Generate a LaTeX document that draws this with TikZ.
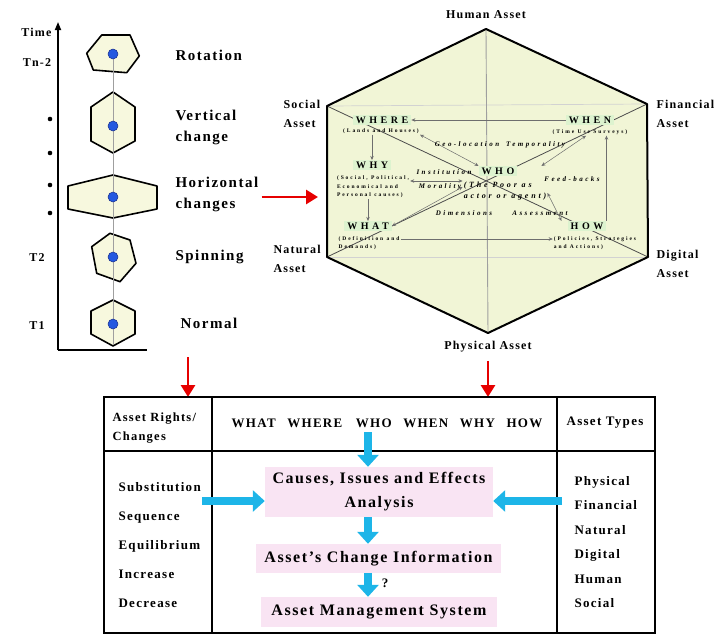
\documentclass[tikz,border=0pt]{standalone}
\usepackage{fontspec}
\setmainfont{Liberation Serif}[LetterSpace=10]
\newfontfamily\widefont{Liberation Serif}[LetterSpace=35]
\usepackage{xcolor}
\usetikzlibrary{arrows.meta,positioning,calc}
\definecolor{cellbg}{HTML}{F7F8DE}
\definecolor{hexbg}{HTML}{F1F5D6}
\definecolor{lblbg}{HTML}{DDF3CF}
\definecolor{pinkbg}{HTML}{F9E4F3}
\definecolor{dotfill}{HTML}{2458E0}
\definecolor{dotbd}{HTML}{1A2F8C}
\definecolor{redarr}{HTML}{E60000}
\definecolor{cyanarr}{HTML}{1DB5E8}
\definecolor{thingray}{HTML}{6E6E6E}
\tikzset{
  axisline/.style={line width=1.6pt,black},
  axtxt/.style={font=\bfseries\fontsize{12}{14}\selectfont},
  cellhex/.style={draw=black,fill=cellbg,line width=1.6pt,line join=round},
  spine/.style={gray!75,line width=0.9pt},
  dotblue/.style={circle,draw=dotbd,fill=dotfill,inner sep=0pt,
                  minimum size=10pt,line width=0.5pt},
  bigtxt/.style={font=\bfseries\fontsize{15}{21}\selectfont,align=left},
  assettxt/.style={font=\bfseries\fontsize{12}{19}\selectfont,align=left},
  hexedge/.style={draw=black,line width=2pt,line join=round},
  faint/.style={gray!35,line width=0.7pt},
  diag/.style={black!70,line width=0.8pt},
  hexlbl/.style={fill=lblbg,inner xsep=3pt,inner ysep=1.5pt,
                 font=\widefont\bfseries\fontsize{10}{12}\selectfont},
  sublbl/.style={font=\widefont\bfseries\fontsize{5.5}{8.5}\selectfont,
                 align=left,inner sep=1pt},
  flowlbl/.style={font=\widefont\bfseries\itshape\fontsize{7}{9}\selectfont,
                  inner sep=1pt},
  oneway/.style={-{Stealth[length=4pt,width=3.5pt]},thingray,line width=0.5pt},
  twoway/.style={{Stealth[length=4pt,width=3.5pt]}-{Stealth[length=4pt,width=3.5pt]},
                 thingray,line width=0.5pt},
  redarrow/.style={-{Triangle[length=12pt,width=14pt]},redarr,line width=2.8pt},
  cyanarrow/.style={-{Triangle[length=12pt,width=21pt]},cyanarr,line width=8pt},
  tablebd/.style={line width=2.6pt,black},
  tablein/.style={line width=1.3pt,black},
  tabtxt/.style={font=\bfseries\fontsize{13}{19}\selectfont,align=left},
  pinkbox/.style={fill=pinkbg,inner sep=0pt,align=center,
                  font=\bfseries\fontsize{16}{24}\selectfont},
}
\begin{document}
\begin{tikzpicture}[x=1pt,y=-1pt]
  \useasboundingbox (0,0) rectangle (716,635);

  % Time axis with the stages
  \draw[axisline,-{Triangle[length=8pt,width=6pt]}] (58,350) -- (58,22);
  \draw[axisline] (58,350) -- (147,350);
  \node[axtxt,anchor=east] (time) at (55,32) {Time};
  \node[axtxt] (tn) at (37,63) {Tn-2};
  \node[axtxt] (ttwo) at (37,258) {T2};
  \node[axtxt] (tone) at (37,326) {T1};
  \foreach \y in {119,153,185,213}
    \fill (50,\y) circle (2.3pt);

  % Asset shapes over time
  \draw[cellhex] (86.7,53.3) -- (101.7,35) -- (130,35) -- (139.3,56)
    -- (126.7,72.7) -- (93.3,70) -- cycle;
  \draw[cellhex] (113,92) -- (135,107) -- (135,141) -- (113,153)
    -- (91,141) -- (91,107) -- cycle;
  \draw[cellhex] (113,175) -- (157,186) -- (157,209) -- (113,218)
    -- (68,209) -- (68,186) -- cycle;
  \draw[cellhex] (91.7,246.7) -- (110,233.3) -- (130,240) -- (136,263.3)
    -- (120,281.7) -- (96.7,273.3) -- cycle;
  \draw[cellhex] (113,300) -- (135,311) -- (135,334) -- (113,346)
    -- (91,334) -- (91,311) -- cycle;
  \draw[spine] (113,54) -- (113,345);
  \foreach \y/\n in {54/drot,126/dver,197/dhor,257/dspin,324/dnorm}
    \node[dotblue] (\n) at (113,\y) {};

  \node[bigtxt,anchor=west] (lrot) at (172,55) {Rotation};
  \node[bigtxt,anchor=west] (lver) at (172,127) {Vertical\\change};
  \node[bigtxt,anchor=west] (lhor) at (172,194) {Horizontal\\changes};
  \node[bigtxt,anchor=west] (lspin) at (172,257) {Spinning};
  \node[bigtxt,anchor=west] (lnorm) at (177,323) {Normal};

  % Asset hexagon
  \coordinate (hA) at (486,29);
  \coordinate (fA) at (647,104);
  \coordinate (dA) at (648,257);
  \coordinate (pA) at (488,333);
  \coordinate (nA) at (327,257);
  \coordinate (sA) at (327,106);
  \fill[hexbg] (hA) -- (fA) -- (dA) -- (pA) -- (nA) -- (sA) -- cycle;
  \draw[faint] (sA) -- (fA);
  \draw[faint] (nA) -- (dA);
  \draw[spine] (hA) -- (pA);
  \draw[diag] (sA) -- (dA);
  \draw[diag] (fA) -- (nA);
  \draw[hexedge] (hA) -- (fA) -- (dA) -- (pA) -- (nA) -- (sA) -- cycle;

  \node[assettxt] (human) at (486,15) {Human Asset};
  \node[assettxt] (phys) at (488,347) {Physical Asset};
  \node[assettxt,anchor=west] (social) at (280,114) {Social\\Asset};
  \node[assettxt,anchor=west] (finan) at (653,114) {Financial\\Asset};
  \node[assettxt,anchor=west] (natur) at (270,259) {Natural\\Asset};
  \node[assettxt,anchor=west] (digit) at (653,264) {Digital\\Asset};

  % W-questions inside the hexagon
  \node[hexlbl] (where) at (382,120) {WHERE};
  \node[sublbl] (wheresub) at (381,131) {(Lands and Houses)};
  \node[hexlbl] (when) at (590,120) {WHEN};
  \node[sublbl] (whensub) at (590,132) {(Time Use Surveys)};
  \node[hexlbl] (why) at (372,165) {WHY};
  \node[sublbl] (whysub) at (373,187) {(Social, Political,\\Economical and\\Personal causes)};
  \node[hexlbl] (who) at (498,171) {WHO};
  \node[sublbl,font=\widefont\bfseries\itshape\fontsize{8}{11}\selectfont]
    (whosub) at (505,191) {(The Poor as\\actor or agent)};
  \node[hexlbl] (what) at (368,226) {WHAT};
  \node[sublbl] (whatsub) at (369,243) {(Definition and\\Demands)};
  \node[hexlbl] (how) at (587,226) {HOW};
  \node[sublbl] (howsub) at (595,243) {(Policies, Strategies\\and Actions)};

  \draw[oneway] (when.west) -- (where.east);
  \draw[oneway] (wheresub.south -| why) -- (why.north);
  \draw[oneway] (whysub.south -| what) -- (what.north);
  \draw[oneway] ([yshift=4pt]whatsub.east) -- ([yshift=4pt]whatsub.east -| howsub.west);
  \draw[oneway] (how.north east) -- (how.north east |- whensub.south);
  \draw[twoway] (wheresub.south east) -- (who.north west);
  \draw[twoway] ([xshift=-4pt]whensub.south) -- ([xshift=24pt]who.north east);
  \draw[twoway] (what.east) -- ([yshift=4pt]whosub.west);
  \draw[twoway] ([xshift=-6pt]how.north west) -- ([yshift=-2pt]whosub.east);
  \draw[twoway] ([yshift=6pt]whysub.east) -- ([yshift=6pt]whysub.east -| whosub.west);

  \node[flowlbl] (lgeo) at (500,145) {Geo-location\quad Temporality};
  \node[flowlbl] (linst) at (444,172) {Institution};
  \node[flowlbl] (lmor) at (440,187) {Morality};
  \node[flowlbl] (lfeed) at (572,179) {Feed-backs};
  \node[flowlbl] (ldim) at (464,213) {Dimensions};
  \node[flowlbl] (lass) at (540,213) {Assessment};

  % Arrows towards the table
  \coordinate (redtip) at (318,197);
  \draw[redarrow] ([yshift=-3pt]lhor.east) -- (redtip);
  \coordinate (tl) at (104,397);
  \coordinate (br) at (655,633);
  \coordinate (leftstart) at (188,357);
  \draw[redarrow] (leftstart) -- (leftstart |- tl);
  \draw[redarrow] ([yshift=-5pt]phys.south) -- (phys.south |- tl);

  % Table
  \draw[tablein] (212,397) -- (212,633);
  \draw[tablein] (557,397) -- (557,633);
  \draw[tablein] (104,451) -- (655,451);
  \draw[tablebd] (tl) rectangle (br);

  \node[tabtxt,anchor=west,font=\bfseries\fontsize{12.5}{19}\selectfont]
    (rights) at (109,428) {Asset Rights/\\Changes};
  \node[tabtxt] (hdr) at (387,423) {WHAT\hspace{7pt} WHERE\hspace{9pt} WHO\hspace{7pt} WHEN\hspace{7pt} WHY\hspace{7pt} HOW};
  \node[tabtxt] (types) at (605,423) {Asset Types};
  \node[tabtxt,anchor=west,font=\bfseries\fontsize{13}{29}\selectfont]
    (changes) at (115,545) {Substitution\\Sequence\\Equilibrium\\Increase\\Decrease};
  \node[tabtxt,anchor=west,font=\bfseries\fontsize{13}{24.4}\selectfont]
    (kinds) at (571,542) {Physical\\Financial\\Natural\\Digital\\Human\\Social};

  \node[pinkbox,minimum width=228pt,minimum height=50pt] (causes) at (379,492)
    {Causes, Issues and Effects\\Analysis};
  \node[pinkbox,minimum width=245pt,minimum height=29pt] (change) at (378.5,558.5)
    {Asset's Change Information};
  \node[pinkbox,minimum width=236pt,minimum height=30pt] (ams) at (379,612)
    {Asset Management System};

  \coordinate (whotop) at (368,432);
  \coordinate (lft) at (202,501);
  \coordinate (rgt) at (562,501);
  \draw[cyanarrow] (whotop) -- (causes.north -| whotop);
  \draw[cyanarrow] (causes.south -| whotop) -- (change.north -| whotop);
  \draw[cyanarrow] (change.south -| whotop) -- (ams.north -| whotop);
  \draw[cyanarrow] (lft) -- (lft -| causes.west);
  \draw[cyanarrow] (rgt) -- (rgt -| causes.east);
  \node[tabtxt] (query) at (385,583) {?};
\end{tikzpicture}
\end{document}
